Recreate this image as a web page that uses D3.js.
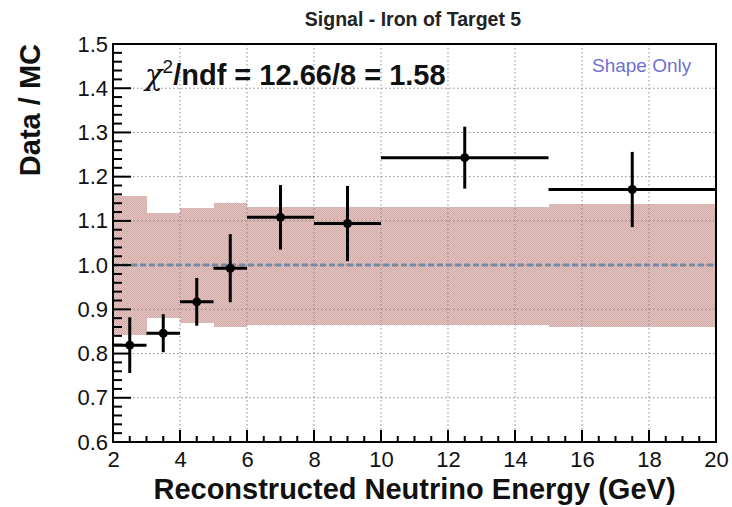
<!DOCTYPE html>
<html>
<head>
<meta charset="utf-8">
<script src="https://cdn.jsdelivr.net/npm/d3@7"></script>
<style>
  body { margin: 0; background: #fff; }
  svg { display: block; font-family: "Liberation Sans", Arial, Helvetica, sans-serif; }
</style>
</head>
<body>
<svg id="chart" width="732" height="507"></svg>
<script>
// bins of reconstructed neutrino energy (GeV)
var binLow  = [2, 3, 4, 5, 6, 8, 10, 15];
var binHigh = [3, 4, 5, 6, 8, 10, 15, 20];
// data / MC ratio and its statistical error
var ratio   = [0.819, 0.846, 0.917, 0.993, 1.108, 1.094, 1.243, 1.171];
var ratioErr = [0.063, 0.043, 0.054, 0.077, 0.073, 0.085, 0.070, 0.085];
// systematic error band around 1
var bandHigh = [1.157, 1.118, 1.130, 1.140, 1.132, 1.132, 1.132, 1.139];
var bandLow  = [0.842, 0.880, 0.868, 0.861, 0.865, 0.865, 0.865, 0.861];

var xTicks = [2, 4, 6, 8, 10, 12, 14, 16, 18, 20];
var yTicks = [0.6, 0.7, 0.8, 0.9, 1.0, 1.1, 1.2, 1.3, 1.4, 1.5];

(function() {
    var padL = 113, padR = 716, padT = 44, padB = 442;

    var svg = d3.select('#chart');

    var x = d3.scaleLinear().domain([2, 20]).range([padL, padR]);
    var y = d3.scaleLinear().domain([0.6, 1.5]).range([padB, padT]);

    // fine mesh texture for the band
    var defs = svg.append('defs');
    var pat = defs.append('pattern')
        .attr('id', 'mesh')
        .attr('patternUnits', 'userSpaceOnUse')
        .attr('width', 2).attr('height', 2);
    pat.append('rect').attr('width', 2).attr('height', 2).attr('fill', '#e2c4c1');
    pat.append('rect').attr('width', 1).attr('height', 1).attr('fill', '#d3aba8');
    pat.append('rect').attr('x', 1).attr('y', 1).attr('width', 1).attr('height', 1).attr('fill', '#d3aba8');

    var bins = binLow.map(function(lo, i) {
        return {lo: lo, hi: binHigh[i], v: ratio[i], e: ratioErr[i], bh: bandHigh[i], bl: bandLow[i]};
    });

    // error band
    svg.append('g').selectAll('rect').data(bins).enter()
        .append('rect')
            .attr('x', function(d) { return x(d.lo); })
            .attr('width', function(d) { return x(d.hi) - x(d.lo); })
            .attr('y', function(d) { return y(d.bh); })
            .attr('height', function(d) { return y(d.bl) - y(d.bh); })
            .attr('fill', 'url(#mesh)')
            .attr('shape-rendering', 'crispEdges');

    // grid
    var grid = svg.append('g')
        .attr('stroke', '#8a8a8a')
        .attr('stroke-width', 1)
        .attr('stroke-dasharray', '1.5,2.5');
    grid.selectAll('.gx').data(xTicks.slice(1, -1)).enter()
        .append('line')
            .attr('x1', x).attr('x2', x)
            .attr('y1', padT).attr('y2', padB);
    grid.selectAll('.gy').data(yTicks.slice(1, -1)).enter()
        .append('line')
            .attr('x1', padL).attr('x2', padR)
            .attr('y1', y).attr('y2', y);

    // unity line
    svg.append('line')
        .attr('x1', padL).attr('x2', padR)
        .attr('y1', y(1)).attr('y2', y(1))
        .attr('stroke', '#7489a3')
        .attr('stroke-width', 3)
        .attr('stroke-dasharray', '6,3');

    // data points
    var pts = svg.append('g').attr('stroke', '#000').attr('stroke-width', 3);
    pts.selectAll('.ex').data(bins).enter()
        .append('line')
            .attr('x1', function(d) { return x(d.lo); })
            .attr('x2', function(d) { return x(d.hi); })
            .attr('y1', function(d) { return y(d.v); })
            .attr('y2', function(d) { return y(d.v); });
    pts.selectAll('.ey').data(bins).enter()
        .append('line')
            .attr('x1', function(d) { return x((d.lo + d.hi) / 2); })
            .attr('x2', function(d) { return x((d.lo + d.hi) / 2); })
            .attr('y1', function(d) { return y(d.v + d.e); })
            .attr('y2', function(d) { return y(d.v - d.e); });
    svg.append('g').selectAll('circle').data(bins).enter()
        .append('circle')
            .attr('cx', function(d) { return x((d.lo + d.hi) / 2); })
            .attr('cy', function(d) { return y(d.v); })
            .attr('r', 4.5)
            .attr('fill', '#000');

    // axes, ROOT style ticks
    var xAxis = d3.axisBottom(x).tickValues(xTicks).tickSize(0).tickPadding(9);
    var gx = svg.append('g').attr('transform', 'translate(0,' + padB + ')').call(xAxis);
    gx.select('.domain').remove();
    gx.selectAll('text').attr('font-size', 22).attr('font-family', 'Liberation Sans').attr('fill', '#111');

    var yAxis = d3.axisLeft(y).tickValues(yTicks).tickFormat(d3.format('.1f')).tickSize(0).tickPadding(5);
    var gy = svg.append('g').attr('transform', 'translate(' + padL + ',0)').call(yAxis);
    gy.select('.domain').remove();
    gy.selectAll('text').attr('font-size', 22).attr('font-family', 'Liberation Sans').attr('fill', '#111');

    var ticks = svg.append('g').attr('stroke', '#000').attr('stroke-width', 2);
    ticks.selectAll('.xt').data(d3.range(2, 20.01, 0.5)).enter()
        .append('line')
            .attr('x1', x).attr('x2', x)
            .attr('y1', padB)
            .attr('y2', function(d) { return padB - (d % 2 === 0 ? 12 : 6); });
    ticks.selectAll('.yt').data(d3.range(0, 46)).enter()
        .append('line')
            .attr('y1', function(i) { return y(0.6 + i * 0.02); })
            .attr('y2', function(i) { return y(0.6 + i * 0.02); })
            .attr('x1', padL)
            .attr('x2', function(i) { return padL + (i % 5 === 0 ? 18 : 9); });

    // frame
    svg.append('rect')
        .attr('x', padL).attr('y', padT)
        .attr('width', padR - padL).attr('height', padB - padT)
        .attr('fill', 'none').attr('stroke', '#000').attr('stroke-width', 2);

    // titles
    svg.append('text')
        .attr('x', 413).attr('y', 26)
        .attr('text-anchor', 'middle')
        .attr('font-size', 19.5).attr('font-weight', 'bold').attr('fill', '#222')
        .text('Signal - Iron of Target 5');

    svg.append('text')
        .attr('x', (padL + padR) / 2).attr('y', 499)
        .attr('text-anchor', 'middle')
        .attr('font-size', 29).attr('font-weight', 'bold').attr('fill', '#111')
        .text('Reconstructed Neutrino Energy (GeV)');

    svg.append('text')
        .attr('transform', 'translate(40,' + padT + ') rotate(-90)')
        .attr('text-anchor', 'end')
        .attr('font-size', 29).attr('font-weight', 'bold').attr('fill', '#111')
        .text('Data / MC');

    var chi = svg.append('text')
        .attr('x', 145).attr('y', 85)
        .attr('font-size', 29).attr('font-weight', 'bold').attr('fill', '#111');
    chi.append('tspan').attr('font-weight', 'normal').attr('font-family', 'DejaVu Serif').attr('font-style', 'italic').text('χ');
    chi.append('tspan').attr('dy', -12).attr('font-size', 19).attr('font-weight', 'normal').text('2');
    chi.append('tspan').attr('dy', 12).text('/ndf = 12.66/8 = 1.58');

    svg.append('text')
        .attr('x', 592).attr('y', 72)
        .attr('font-size', 19).attr('fill', '#7070d0')
        .text('Shape Only');
})();
</script>
</body>
</html>
